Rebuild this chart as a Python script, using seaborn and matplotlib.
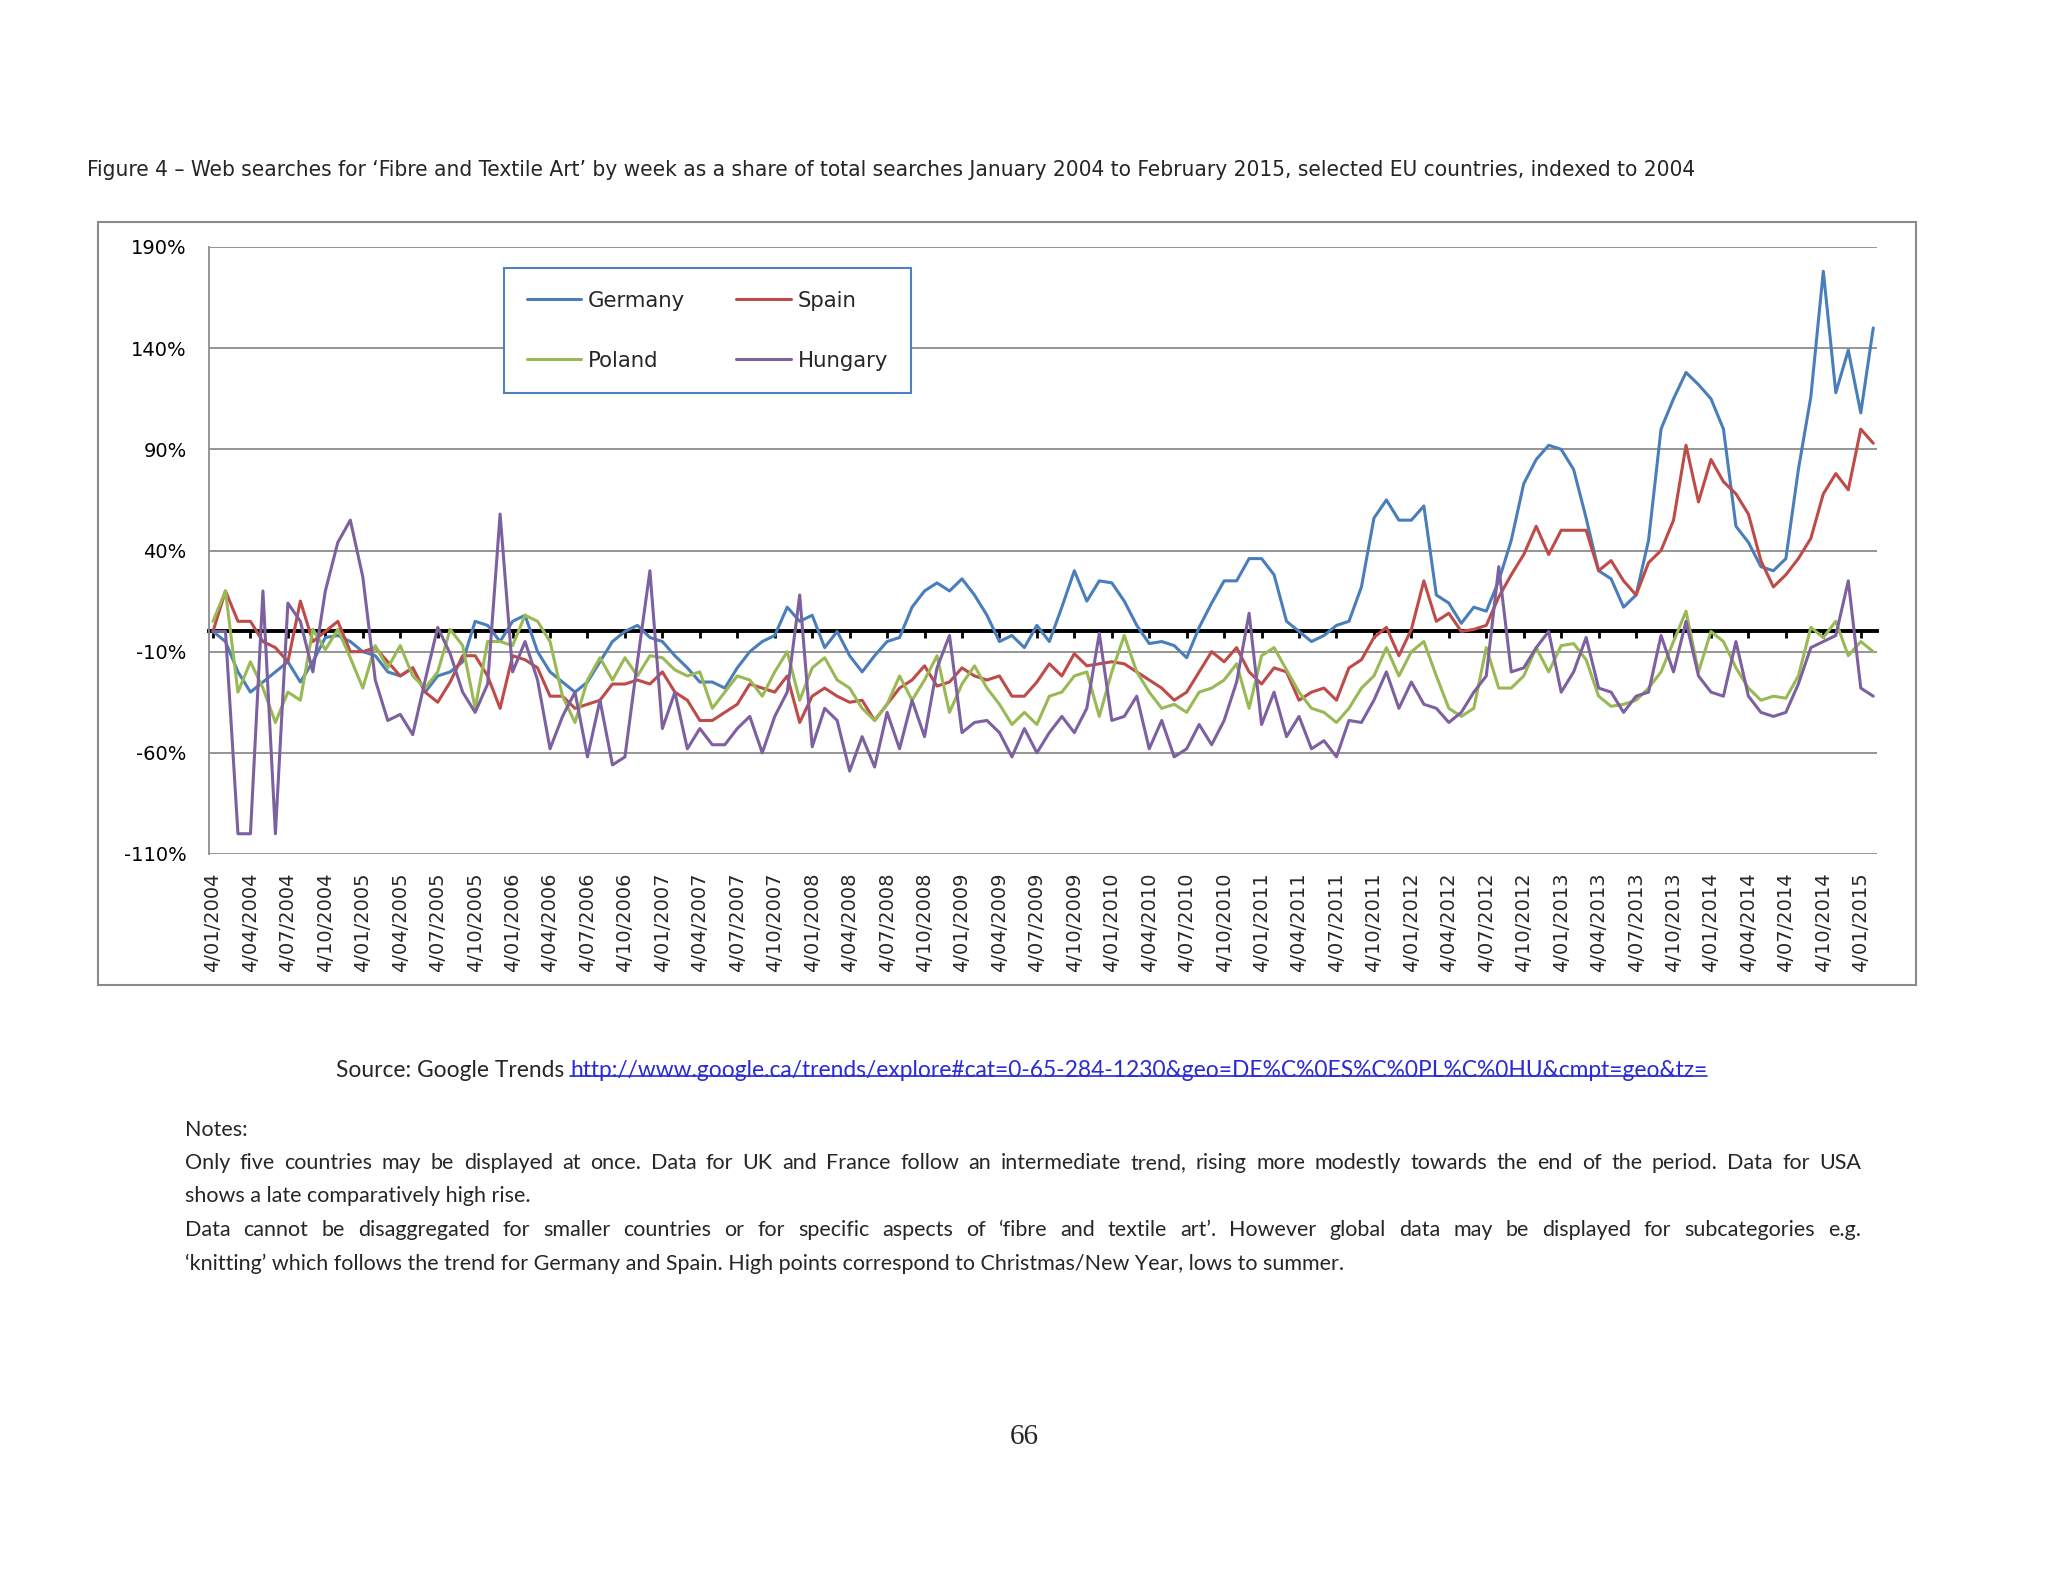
import numpy as np
import pandas as pd
import matplotlib
matplotlib.use("Agg")
import matplotlib.pyplot as plt
import seaborn as sns
from matplotlib import font_manager
from matplotlib.patches import Rectangle
from matplotlib.lines import Line2D
from matplotlib.ticker import StrMethodFormatter

# ---------------------------------------------
# data: monthly readings, Jan 2004 .. Feb 2015
# (% of 2004 level)
# ---------------------------------------------
countries = ["Germany", "Spain", "Poland", "Hungary"]
colors = ["#4A7EBB", "#BE4B48", "#98B954", "#7D60A0"]

germany = [0, -5, -20, -30, -25, -20, -15, -25, -15, -3, -2, -5,
           -10, -12, -20, -22, -18, -30, -22, -20, -15, 5, 3, -5,
           5, 8, -10, -20, -25, -30, -25, -15, -5, 0, 3, -3,
           -5, -12, -18, -25, -25, -28, -18, -10, -5, -2, 12, 5,
           8, -8, 0, -12, -20, -12, -5, -3, 12, 20, 24, 20,
           26, 18, 8, -5, -2, -8, 3, -5, 12, 30, 15, 25,
           24, 15, 3, -6, -5, -7, -13, 2, 14, 25, 25, 36,
           36, 28, 5, 0, -5, -2, 3, 5, 22, 56, 65, 55,
           55, 62, 18, 14, 4, 12, 10, 25, 45, 73, 85, 92,
           90, 80, 56, 30, 26, 12, 18, 45, 100, 115, 128, 122,
           115, 100, 52, 44, 32, 30, 36, 80, 116, 178, 118, 139,
           108, 150]

spain = [0, 20, 5, 5, -5, -8, -15, 15, -5, 0, 5, -10,
         -10, -8, -15, -22, -18, -30, -35, -25, -12, -12, -22, -38,
         -12, -14, -18, -32, -32, -38, -36, -34, -26, -26, -24, -26,
         -20, -30, -34, -44, -44, -40, -36, -26, -28, -30, -22, -45,
         -32, -28, -32, -35, -34, -44, -36, -28, -24, -17, -27, -25,
         -18, -22, -24, -22, -32, -32, -25, -16, -22, -11, -17, -16,
         -15, -16, -20, -24, -28, -34, -30, -20, -10, -15, -8, -20,
         -26, -18, -20, -34, -30, -28, -34, -18, -14, -3, 2, -12,
         1, 25, 5, 9, 0, 1, 3, 17, 28, 38, 52, 38,
         50, 50, 50, 30, 35, 25, 18, 34, 40, 55, 92, 64,
         85, 74, 68, 58, 35, 22, 28, 36, 46, 68, 78, 70,
         100, 93]

poland = [5, 20, -30, -15, -28, -45, -30, -34, 1, -9, 1, -13,
          -28, -7, -18, -7, -22, -28, -20, 1, -7, -38, -5, -5,
          -7, 8, 5, -5, -32, -45, -24, -13, -24, -13, -22, -12,
          -13, -19, -22, -20, -38, -30, -22, -24, -32, -20, -10, -34,
          -18, -13, -24, -28, -38, -44, -36, -22, -34, -24, -12, -40,
          -26, -17, -28, -36, -46, -40, -46, -32, -30, -22, -20, -42,
          -20, -2, -20, -30, -38, -36, -40, -30, -28, -24, -16, -38,
          -12, -8, -19, -30, -38, -40, -45, -38, -28, -22, -8, -22,
          -10, -5, -22, -38, -42, -38, -8, -28, -28, -22, -8, -20,
          -7, -6, -14, -32, -37, -36, -34, -28, -20, -5, 10, -20,
          0, -5, -18, -28, -34, -32, -33, -22, 2, -3, 5, -12,
          -5, -10]

hungary = [0, 0, -100, -100, 20, -100, 14, 5, -20, 20, 44, 55,
           27, -24, -44, -41, -51, -24, 2, -11, -30, -40, -26, 58,
           -20, -5, -24, -58, -42, -30, -62, -34, -66, -62, -15, 30,
           -48, -30, -58, -48, -56, -56, -48, -42, -60, -42, -30, 18,
           -57, -38, -44, -69, -52, -67, -40, -58, -34, -52, -18, -2,
           -50, -45, -44, -50, -62, -48, -60, -50, -42, -50, -38, -1,
           -44, -42, -32, -58, -44, -62, -58, -46, -56, -44, -25, 9,
           -46, -30, -52, -42, -58, -54, -62, -44, -45, -34, -20, -38,
           -25, -36, -38, -45, -40, -30, -22, 32, -20, -18, -8, 0,
           -30, -20, -3, -28, -30, -40, -32, -30, -2, -20, 5, -22,
           -30, -32, -5, -32, -40, -42, -40, -26, -8, -5, -2, 25,
           -28, -32]

tick_years = list(range(2004, 2016))
tick_months = ["01", "04", "07", "10"]
tick_labels = [f"4/{mo}/{yr}" for yr in tick_years for mo in tick_months][:45]
y_ticks = [-110, -60, -10, 40, 90, 140, 190]

title = ("Figure 4 \u2013 Web searches for \u2018Fibre and Textile Art\u2019 by week as a share of "
         "total searches January 2004 to February 2015, selected EU countries, indexed to 2004")
source_label = "Source: Google Trends "
source_link = "http://www.google.ca/trends/explore#cat=0-65-284-1230&geo=DE%C%0ES%C%0PL%C%0HU&cmpt=geo&tz="
notes = [
    ("Notes:", False),
    ("Only five countries may be displayed at once. Data for UK and France follow an intermediate "
     "trend, rising more modestly towards the end of the period. Data for USA", True),
    ("shows a late comparatively high rise.", False),
    ("Data cannot be disaggregated for smaller countries or for specific aspects of \u2018fibre and "
     "textile art\u2019. However global data may be displayed for subcategories e.g.", True),
    ("\u2018knitting\u2019 which follows the trend for Germany and Spain. High points correspond to "
     "Christmas/New Year, lows to summer.", False),
]
page_number = "66"

n = len(germany)
df = pd.DataFrame({
    "month": np.tile(np.arange(n), len(countries)),
    "country": np.repeat(countries, n),
    "value": np.concatenate([germany, spain, poland, hungary]),
})

# ---------------------------------------------
# style
# ---------------------------------------------
sns.set_style("white")
installed = {f.name for f in font_manager.fontManager.ttflist}
plt.rcParams["font.family"] = ["DejaVu Sans"]
plt.rcParams["axes.unicode_minus"] = False
narrow = "Liberation Sans Narrow" if "Liberation Sans Narrow" in installed else "DejaVu Sans"
light = "Lato" if "Lato" in installed else "DejaVu Sans"
serif = "Liberation Serif" if "Liberation Serif" in installed else "DejaVu Serif"

W, H = 2048, 1582
fig = plt.figure(figsize=(W / 100, H / 100), dpi=100)
renderer = fig.canvas.get_renderer()

# chart frame
fig.add_artist(Rectangle((98 / W, 1 - 985 / H), (1916 - 98) / W, (985 - 222) / H,
                         transform=fig.transFigure, fill=False, edgecolor="#8a8a8a", lw=1.5))

ax = fig.add_axes([209 / W, 1 - 854 / H, (1877 - 209) / W, (854 - 247) / H])
sns.lineplot(data=df, x="month", y="value", hue="country", hue_order=countries,
             palette=dict(zip(countries, colors)), linewidth=2.2, errorbar=None, ax=ax)

ax.set_xlim(-0.32, 133.3)
ax.set_ylim(-110, 190)
ax.set_yticks(y_ticks)
ax.yaxis.set_major_formatter(StrMethodFormatter("{x:.0f}%"))
ax.grid(axis="y", color="#8c8c8c", lw=1.3)
ax.grid(axis="x", visible=False)
ax.set_axisbelow(True)
for s in ["top", "right", "bottom"]:
    ax.spines[s].set_visible(False)
ax.spines["left"].set_color("#8c8c8c")
ax.spines["left"].set_linewidth(1.3)
ax.tick_params(axis="y", length=5, width=1.3, color="#8c8c8c", labelsize=14, pad=11,
               labelcolor="black")
ax.set_xticks(range(0, 3 * len(tick_labels), 3))
ax.set_xticklabels(tick_labels, rotation=90, fontsize=14, va="top", ha="center")
ax.tick_params(axis="x", length=0, pad=13)
ax.set_xlabel("")
ax.set_ylabel("")

# black category axis crossing at 0%
zero_axis = ax.secondary_xaxis(110 / 300)
zero_axis.set_xticks(range(0, 3 * len(tick_labels), 3))
zero_axis.set_xticklabels([])
zero_axis.spines["bottom"].set_color("black")
zero_axis.spines["bottom"].set_linewidth(2.8)
zero_axis.tick_params(axis="x", direction="out", length=5, width=2, color="black")

# legend: rows Germany/Spain, Poland/Hungary
handles, labels = ax.get_legend_handles_labels()
order = [labels.index(c) for c in ["Germany", "Poland", "Spain", "Hungary"]]
leg = ax.legend([handles[i] for i in order], [labels[i] for i in order], ncol=2,
                loc="upper left", bbox_to_anchor=(0.177, 0.965), frameon=True, fancybox=False,
                edgecolor="#4F81BD", framealpha=1, fontsize=15.3, handlelength=2.55,
                handletextpad=0.35, columnspacing=2.4, labelspacing=1.9, borderpad=1.05,
                borderaxespad=0)
leg.get_frame().set_linewidth(1.5)
for line in leg.get_lines():
    line.set_linewidth(2.2)

# ---------------------------------------------
# page text
# ---------------------------------------------
t = fig.text(87 / W, 1 - 170 / H, title, family=narrow, fontstretch="condensed",
             fontsize=18, va="center", ha="left")
w = t.get_window_extent(renderer).width
t.set_fontsize(18 * (1693 - 87) / w)

text_color = "#262626"
src = fig.text(336 / W, 1 - 1077 / H, source_label, family=light, fontweight="normal",
               fontsize=15, va="baseline", ha="left", color=text_color)
lnk = fig.text(0, 1 - 1077 / H, source_link, family=light, fontweight="normal",
               fontsize=15, va="baseline", ha="left", color="#2b2bd6")
total = src.get_window_extent(renderer).width + lnk.get_window_extent(renderer).width
scale = (1705 - 336) / total
src.set_fontsize(15 * scale)
lnk.set_fontsize(15 * scale)
src_w = src.get_window_extent(renderer).width
lnk.set_x((336 + src_w) / W)
bb = lnk.get_window_extent(renderer)
y_ul = bb.y0 + 0.22 * bb.height
fig.add_artist(Line2D([bb.x0 / W, bb.x1 / W], [y_ul / H, y_ul / H], transform=fig.transFigure,
                      color="#2b2bd6", lw=1.2))

note_style = dict(family=light, fontweight="normal", fontsize=15.5, va="baseline", ha="left",
                  color=text_color)
left_px, right_px = 185, 1861
note_base = [1136, 1169, 1202, 1236, 1270]
for (line, justify), y_px in zip(notes, note_base):
    y = 1 - y_px / H
    if not justify:
        fig.text(left_px / W, y, line, **note_style)
        continue
    words = line.split(" ")
    objs = [fig.text(0, y, wd, **note_style) for wd in words]
    widths = [o.get_window_extent(renderer).width for o in objs]
    gap = (right_px - left_px - sum(widths)) / (len(words) - 1)
    x = left_px
    for o, wd in zip(objs, widths):
        o.set_x(x / W)
        x += wd + gap

fig.text(0.5, 1 - 1437 / H, page_number, family=serif, fontsize=21, va="center", ha="center")

fig.savefig("out.png", dpi=100)
